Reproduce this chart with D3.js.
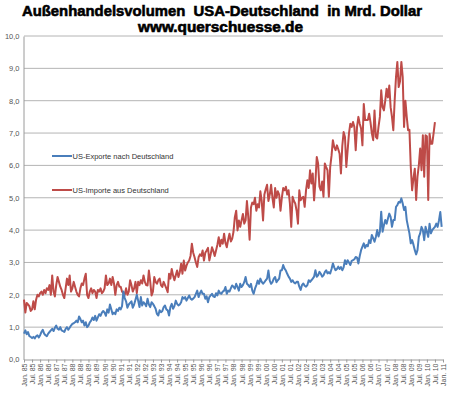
<!DOCTYPE html>
<html><head><meta charset="utf-8">
<script src="https://cdn.jsdelivr.net/npm/d3@7"></script>
<style>html,body{margin:0;padding:0;background:#fff;}svg{display:block;}</style>
</head><body>
<svg id="c" width="450" height="396"></svg>
<script>
const title1 = "Außenhandelsvolumen  USA-Deutschland  in Mrd. Dollar";
const title2 = "www.querschuesse.de";
const seriesNames = ["US-Exporte nach Deutschland", "US-Importe aus Deutschland"];
const yTicks = [0,1,2,3,4,5,6,7,8,9,10];
const tickLabels = ["Jan. 85","Jul. 85","Jan. 86","Jul. 86","Jan. 87","Jul. 87","Jan. 88","Jul. 88","Jan. 89","Jul. 89",
"Jan. 90","Jul. 90","Jan. 91","Jul. 91","Jan. 92","Jul. 92","Jan. 93","Jul. 93","Jan. 94","Jul. 94",
"Jan. 95","Jul. 95","Jan. 96","Jul. 96","Jan. 97","Jul. 97","Jan. 98","Jul. 98","Jan. 99","Jul. 99",
"Jan. 00","Jul. 00","Jan. 01","Jul. 01","Jan. 02","Jul. 02","Jan. 03","Jul. 03","Jan. 04","Jul. 04",
"Jan. 05","Jul. 05","Jan. 06","Jul. 06","Jan. 07","Jul. 07","Jan. 08","Jul. 08","Jan. 09","Jul. 09",
"Jan. 10","Jul. 10","Jan. 11"];

// US exports to Germany, monthly from Jan 1985 (bn USD)
const exportsUS = [
0.80,0.90,0.78,0.85,0.72,0.70,0.66,0.70,0.65,0.72,0.75,0.68,
0.75,0.85,0.92,0.80,0.75,0.72,0.80,0.85,0.90,0.95,0.88,0.98,
1.05,0.95,0.92,1.00,0.90,0.88,0.85,0.95,1.00,0.92,0.98,1.05,
1.10,1.12,1.15,1.20,1.15,1.33,1.25,1.15,1.20,1.05,1.15,1.00,
1.05,1.15,1.20,1.30,1.22,1.35,1.20,1.30,1.40,1.35,1.45,1.50,
1.45,1.35,1.55,1.45,1.70,1.55,1.40,1.45,1.40,1.55,1.50,1.60,
1.55,1.65,2.10,1.90,1.80,1.60,1.70,1.75,1.80,1.60,1.70,1.85,
2.00,1.82,1.62,1.93,1.67,1.77,1.72,1.65,1.88,1.70,1.62,1.77,
1.72,1.65,1.57,1.41,1.36,1.52,1.46,1.50,1.62,1.67,1.55,1.52,
1.36,1.62,1.72,1.57,1.65,1.82,1.72,1.67,1.70,1.77,1.93,1.88,
1.93,1.82,1.90,1.98,1.88,1.85,1.88,1.93,2.03,2.13,1.93,2.05,
2.13,2.03,2.03,1.88,1.95,1.77,1.93,1.98,2.03,1.95,1.93,2.05,
1.98,2.13,2.05,2.03,2.10,2.13,2.24,2.03,2.13,2.10,2.20,2.29,
2.25,2.19,2.34,2.24,2.13,2.34,2.24,2.30,2.39,2.55,2.34,2.30,
2.24,2.34,2.13,2.03,2.19,2.30,2.44,2.34,2.50,2.40,2.34,2.39,
2.45,2.50,2.75,2.44,2.34,2.39,2.50,2.55,2.39,2.45,2.50,2.75,
2.76,2.92,2.81,2.75,2.65,2.56,2.50,2.40,2.45,2.38,2.35,2.40,
2.40,2.25,2.15,2.30,2.35,2.28,2.25,2.30,2.45,2.40,2.45,2.50,
2.56,2.76,2.56,2.60,2.71,2.65,2.56,2.60,2.70,2.76,2.66,2.70,
2.66,2.80,2.97,2.85,2.76,2.80,2.87,2.80,2.86,2.76,2.85,3.07,
2.95,3.07,3.00,2.92,3.05,3.07,3.10,3.17,3.15,2.97,3.20,3.38,
3.49,3.59,3.45,3.54,3.50,3.69,3.60,3.85,3.75,3.64,3.79,4.00,
3.80,3.95,4.57,3.95,4.15,4.31,4.20,4.36,4.51,4.41,4.10,4.31,
4.31,4.72,4.77,4.87,4.85,4.98,4.82,4.62,4.72,4.31,4.10,3.90,
3.59,3.69,3.55,3.38,3.25,3.38,3.79,3.90,4.10,4.00,3.69,4.10,
3.95,3.79,4.20,3.90,4.00,4.05,4.10,4.20,4.10,4.30,4.56,4.10
];

// US imports from Germany, monthly from Jan 1985 (bn USD)
const importsUS = [
1.85,1.45,1.75,1.70,1.65,1.50,1.55,1.80,1.55,1.85,2.00,1.95,
2.05,2.10,2.00,2.15,2.05,2.20,2.15,2.30,2.00,2.60,2.10,1.95,
2.30,2.55,2.40,2.25,2.15,2.00,1.90,2.20,2.50,2.30,2.60,2.10,
2.20,2.40,2.25,2.10,2.00,1.95,2.20,2.35,2.30,2.50,2.65,2.00,
1.90,2.10,2.20,2.05,2.15,2.10,1.90,2.15,2.10,2.20,2.05,2.10,
2.20,2.60,2.30,2.35,2.50,2.30,2.55,2.35,2.00,2.30,2.40,2.25,
2.25,2.10,2.05,2.00,2.20,2.00,2.10,2.45,2.30,2.10,2.20,2.40,
2.05,2.40,2.30,2.45,2.35,2.60,2.40,2.30,2.29,2.75,2.40,1.98,
2.10,2.55,2.40,2.34,2.45,2.50,2.30,2.24,2.40,2.30,2.20,2.08,
2.65,2.50,2.80,2.60,2.45,2.60,2.75,2.55,2.70,2.96,2.65,3.06,
2.75,2.90,3.00,3.06,3.20,3.58,3.30,3.16,3.00,2.86,3.16,3.25,
3.20,3.37,3.06,3.30,3.37,3.45,3.06,3.25,3.47,3.35,3.20,3.37,
3.55,3.78,3.50,3.70,3.58,3.89,3.60,3.47,3.70,3.89,3.65,3.73,
3.95,4.40,4.60,3.99,4.30,4.10,4.30,4.50,4.20,4.30,4.90,4.40,
3.70,4.70,4.85,4.80,5.00,4.60,4.80,4.70,5.20,4.90,4.30,5.10,
5.26,5.40,4.90,5.10,5.40,5.00,4.70,5.30,5.00,5.20,5.10,4.60,
5.00,5.30,5.23,5.34,5.10,5.23,4.82,4.10,5.03,4.90,4.82,4.60,
4.20,5.23,4.92,5.00,5.03,4.72,5.23,5.54,5.30,5.85,5.44,5.75,
4.92,5.50,6.26,6.06,5.34,5.23,5.50,5.03,6.06,5.95,5.85,5.03,
5.95,6.30,6.78,6.57,6.47,6.62,6.50,6.36,5.75,6.60,7.03,6.88,
5.95,6.47,7.00,7.29,7.19,7.34,7.19,6.47,7.20,7.50,7.29,7.14,
6.62,7.90,7.40,7.40,7.40,7.60,7.34,7.00,6.78,7.70,6.88,6.83,
7.20,7.50,8.32,7.80,7.70,8.00,8.37,8.10,8.47,7.80,7.50,7.09,
8.00,8.73,9.20,8.42,8.60,9.20,8.73,7.19,8.00,7.50,7.09,7.10,
5.95,5.23,5.60,5.90,4.93,5.65,6.00,6.52,5.85,6.93,5.65,6.93,
6.90,4.93,6.98,6.67,6.67,7.00,7.34
];

const svg = d3.select("#c");
const x = d3.scaleLinear().domain([0, 312]).range([24, 443]);
const y = d3.scaleLinear().domain([0, 10]).range([359.5, 36]);
const fontAxis = "'Liberation Sans', Arial, sans-serif";

// title
svg.append("text").attr("x", 222).attr("y", 16).attr("text-anchor", "middle")
  .attr("font-family", "'Liberation Sans', Arial, sans-serif").attr("font-weight", "900")
  .attr("font-size", 15).attr("textLength", 400).attr("lengthAdjust", "spacingAndGlyphs")
  .attr("fill", "#000").attr("stroke", "#000").attr("stroke-width", 0.6)
  .style("white-space", "pre").text(title1);
svg.append("text").attr("x", 220.5).attr("y", 32).attr("text-anchor", "middle")
  .attr("font-family", "'Liberation Sans', Arial, sans-serif").attr("font-weight", "900")
  .attr("font-size", 14).attr("textLength", 165).attr("lengthAdjust", "spacingAndGlyphs")
  .attr("fill", "#000").attr("stroke", "#000").attr("stroke-width", 0.6).text(title2);

// gridlines
svg.append("g").selectAll("line").data(yTicks.filter(d => d > 0)).join("line")
  .attr("x1", 24).attr("x2", 443)
  .attr("y1", d => y(d)).attr("y2", d => y(d))
  .attr("stroke", "#b4b4b4").attr("stroke-width", 1);

// y axis
const yAxis = d3.axisLeft(y).tickValues(yTicks).tickSize(0).tickPadding(4)
  .tickFormat(d => d3.format(".1f")(d).replace(".", ","));
const gy = svg.append("g").attr("transform", "translate(23.5,0)").call(yAxis);
gy.select(".domain").attr("stroke", "#9a9a9a");
gy.selectAll("text").attr("font-family", fontAxis).attr("font-size", 7.5).attr("fill", "#555");

// x axis
const tickMonths = tickLabels.map((d, i) => i * 6);
const xAxis = d3.axisBottom(x).tickValues(tickMonths).tickSize(3).tickSizeOuter(0)
  .tickFormat((d, i) => tickLabels[i]);
const gx = svg.append("g").attr("transform", "translate(0,359.5)").call(xAxis);
gx.select(".domain").attr("stroke", "#9a9a9a");
gx.selectAll(".tick line").attr("stroke", "#9a9a9a");
gx.selectAll("text").attr("font-family", fontAxis).attr("font-size", 7).attr("fill", "#555")
  .attr("text-anchor", "end").attr("transform", "rotate(-90)")
  .attr("x", -4).attr("y", 0).attr("dy", "0.35em");

// lines
const line = d3.line().x((d, i) => x(i)).y(d => y(d));
svg.append("path").datum(importsUS).attr("d", line).attr("fill", "none")
  .attr("stroke", "#be4b48").attr("stroke-width", 2).attr("stroke-linejoin", "round");
svg.append("path").datum(exportsUS).attr("d", line).attr("fill", "none")
  .attr("stroke", "#4a7ebb").attr("stroke-width", 2).attr("stroke-linejoin", "round");

// legend
const legendColors = ["#4a7ebb", "#be4b48"];
const legendY = [156, 190];
const lg = svg.append("g").selectAll("g").data(seriesNames).join("g")
  .attr("transform", (d, i) => `translate(52,${legendY[i]})`);
lg.append("line").attr("x1", 0).attr("x2", 20).attr("stroke", (d, i) => legendColors[i]).attr("stroke-width", 2);
lg.append("text").attr("x", 20.5).attr("dy", "0.35em").attr("font-family", fontAxis)
  .attr("font-size", 7.5).attr("fill", "#333").text(d => d);
</script>
</body></html>
